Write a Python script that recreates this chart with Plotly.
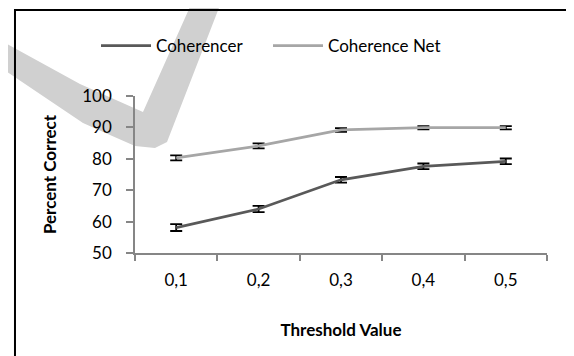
import plotly.graph_objects as go

# ---- data ----
thresholds = ["0,1", "0,2", "0,3", "0,4", "0,5"]
coherencer = [58.1, 64.0, 73.3, 77.6, 79.2]
coherencer_err = [1.1, 1.0, 0.9, 0.9, 0.9]
coherence_net = [80.3, 84.1, 89.2, 89.9, 89.9]
coherence_net_err = [0.8, 0.8, 0.6, 0.5, 0.5]
y_ticks = [50, 60, 70, 80, 90, 100]

# page has an 8px body margin; the figure is sized to fill the rest
OFF = 8
W, H = 574 - OFF, 356 - OFF
L, R, T, B = 135 - OFF, 27, 96 - OFF, 103
PW, PH = W - L - R, H - T - B

def xp(px):
    return (px - OFF - L) / PW

def yp(py):
    return (H - B - (py - OFF)) / PH

def path(points):
    return "M " + " L ".join(f"{xp(x):.4f},{yp(y):.4f}" for x, y in points)

FONT = "Lato"

fig = go.Figure()
fig.add_trace(go.Scatter(
    x=thresholds, y=coherencer, name="Coherencer", mode="lines", legend="legend",
    line=dict(color="#595959", width=2.7),
    error_y=dict(type="data", array=coherencer_err, color="#000000", thickness=1.8, width=6),
))
fig.add_trace(go.Scatter(
    x=thresholds, y=coherence_net, name="Coherence Net", mode="lines", legend="legend2",
    line=dict(color="#A6A6A6", width=2.7),
    error_y=dict(type="data", array=coherence_net_err, color="#000000", thickness=1.8, width=6),
))

# watermark swoosh and frame
wm = [(-5, 38), (0, 40), (80, 84), (143, 112), (193, 0), (196, -10), (226, -10), (222, 0),
      (167, 142), (155, 148), (135, 146), (110, 135), (83, 123), (0, 67), (-5, 64)]
fig.add_shape(type="path", xref="paper", yref="paper", path=path(wm) + " Z",
              fillcolor="#D0D0D0", line=dict(width=0), layer="below")
fig.add_shape(type="path", xref="paper", yref="paper",
              path=path([(15, 362), (15, 10), (580, 10)]),
              line=dict(color="#000000", width=2), layer="above")

legend_style = dict(orientation="h", y=yp(46), xanchor="left", yanchor="middle",
                    font=dict(family=FONT, size=17), bgcolor="rgba(0,0,0,0)", itemwidth=50)

fig.update_layout(
    width=W, height=H,
    margin=dict(l=L, r=R, t=T, b=B, autoexpand=False),
    paper_bgcolor="#FFFFFF", plot_bgcolor="rgba(0,0,0,0)",
    font=dict(family=FONT, size=17, color="#000000"),
    showlegend=True,
    legend=dict(x=xp(96), **legend_style),
    legend2=dict(x=xp(268), **legend_style),
    xaxis=dict(
        type="category", showgrid=False, zeroline=False,
        showline=True, linecolor="#868686", linewidth=1.5,
        ticks="outside", tickson="boundaries", ticklen=6, tickcolor="#868686", tickwidth=1.5,
        range=[-0.5, 4.5], tickfont=dict(family=FONT, size=17), ticklabelstandoff=11,
        title=dict(text="<b>Threshold Value</b>", font=dict(family=FONT, size=17), standoff=35),
    ),
    yaxis=dict(
        range=[50, 100], tickvals=y_ticks, showgrid=False, zeroline=False,
        showline=True, linecolor="#868686", linewidth=1.5,
        ticks="outside", ticklen=7, tickcolor="#868686", tickwidth=1.5,
        tickfont=dict(family=FONT, size=17), ticklabelstandoff=11,
        title=dict(text="<b>Percent Correct</b>", font=dict(family=FONT, size=17), standoff=21),
    ),
)

fig.write_html("out.html")
